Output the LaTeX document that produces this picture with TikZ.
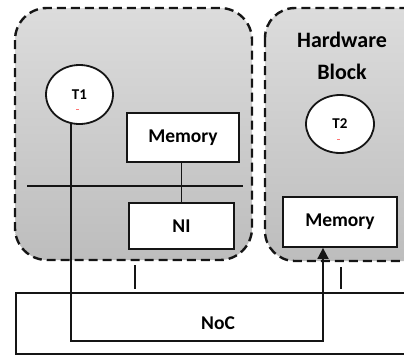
\documentclass[tikz,border=0pt]{standalone}
\usepackage{fontspec}
\setmainfont{Carlito}
\usetikzlibrary{arrows.meta,shapes.geometric}
\definecolor{edge}{HTML}{151515}
\definecolor{shadetop}{HTML}{DCDCDC}
\definecolor{shadebot}{HTML}{BDBDBD}
\tikzset{
  blockbox/.style={draw=edge, line width=2.4pt, dash pattern=on 9pt off 5pt,
    top color=shadetop, bottom color=shadebot, rounded corners=32pt},
  membox/.style={draw=edge, fill=white, line width=1.8pt, inner sep=0pt,
    font=\bfseries\fontsize{19.5}{22}\selectfont},
  taskbox/.style={ellipse, draw=edge, fill=white, line width=1.8pt, inner sep=0pt,
    font=\bfseries\fontsize{15}{17}\selectfont},
  wire/.style={draw=edge, line width=1.8pt},
  redmark/.style={draw=red!55, line width=0.8pt}
}
\begin{document}
\begin{tikzpicture}[x=1pt,y=-1pt]
\useasboundingbox (0,0) rectangle (404,356);
\begin{scope}
\clip (0,0) rectangle (404,356);
% blocks
\path[blockbox] (15,8) rectangle (252,260);
\path[blockbox, rounded corners=30pt] (265,8) rectangle (440,261);
% NoC
\node[membox, minimum width=404pt, minimum height=61pt] (noc) at (218,323.5) {NoC};
\end{scope}
% left block content
\node[taskbox, minimum width=67pt, minimum height=59pt] (T1) at (79.5,94.5) {T1};
\node[membox, minimum width=112pt, minimum height=49pt] (mem1) at (183,137.5) {Memory};
\node[membox, minimum width=105pt, minimum height=46pt] (ni) at (181.5,226) {NI};
\coordinate (busL) at (27,186);
\coordinate (busR) at (243,186);
\draw[wire] (busL) -- (busR);
\draw[wire] (ni.north) -- (ni.north |- mem1.south);
% right block content
\node[font=\bfseries\fontsize{22}{32}\selectfont, align=center] (hw) at (342,56) {Hardware\\Block};
\node[taskbox, minimum width=68pt, minimum height=58pt] (T2) at (340,124) {T2};
\node[membox, minimum width=114pt, minimum height=50pt] (mem2) at (340,222) {Memory};
% red marks
\draw[redmark] (76,109) -- (79,109);
\draw[redmark] (337,139) -- (340,139);
% connectors
\coordinate (t1b) at (71,123.5);
\coordinate (turn) at (323,341);
\draw[wire, -{Triangle[length=11pt,width=11pt]}] (t1b) |- (turn) -- (turn |- mem2.south);
\coordinate (s1a) at (135,265);
\coordinate (s1b) at (135,289);
\coordinate (s2a) at (341,267);
\coordinate (s2b) at (341,289);
\draw[wire] (s1a) -- (s1b);
\draw[wire] (s2a) -- (s2b);
\end{tikzpicture}
\end{document}
